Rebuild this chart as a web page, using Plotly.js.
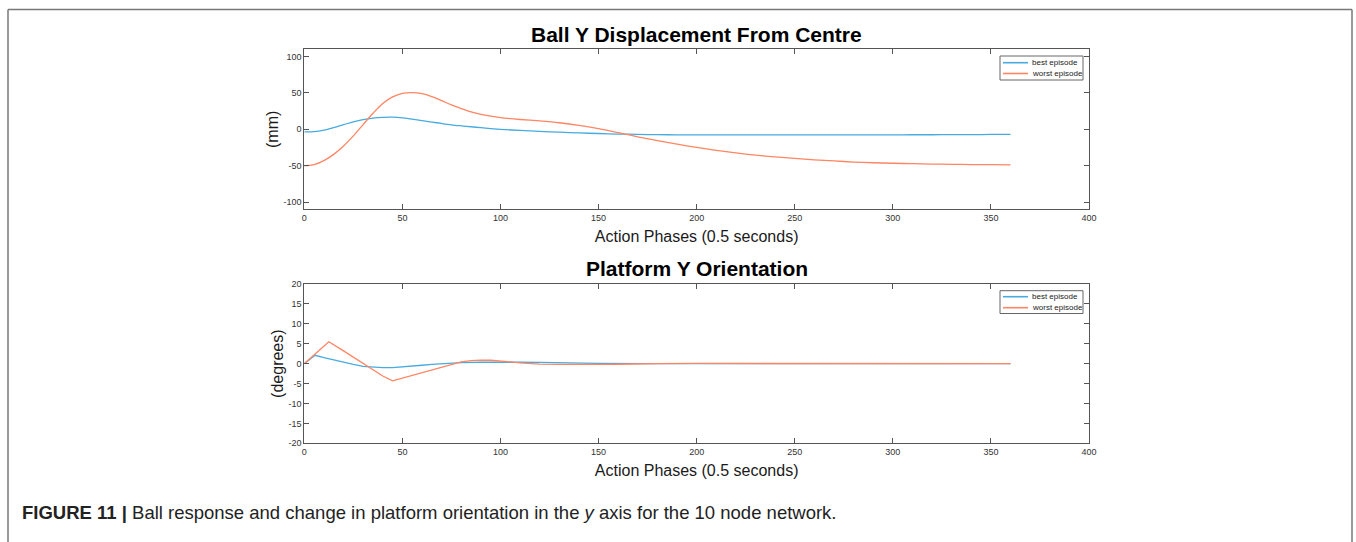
<!DOCTYPE html>
<html>
<head>
<meta charset="utf-8">
<script src="https://cdn.plot.ly/plotly-3.0.1.min.js"></script>
<style>
  html, body { margin: 0; padding: 0; background: #fff; }
  #chart { width: 1356px; height: 542px; }
</style>
</head>
<body>
<div id="chart"></div>
<script>
// ---------- data ----------
const seriesNames = ["best episode", "worst episode"];

// Panel 1: Ball Y displacement from centre (mm)
const dispX = [0,5,10,15,20,25,30,35,40,45,50,55,60,65,70,75,80,85,90,95,100,110,120,130,140,150,160,170,180,190,200,210,220,230,240,250,260,270,280,290,300,310,320,330,340,350,360];
const dispBest = [-3.5,-3.2,-1.2,2.3,6.3,10.3,13.4,15.5,16.5,16.7,15.8,14,12,10,8,6.2,4.8,3.5,2.2,1,0,-1.6,-2.8,-4,-5,-5.8,-6.5,-7,-7.4,-7.6,-7.7,-7.7,-7.7,-7.7,-7.7,-7.7,-7.7,-7.7,-7.7,-7.6,-7.6,-7.5,-7.5,-7.4,-7.3,-7.1,-7.0];
const dispWorst = [-50,-48.5,-43,-34.5,-23,-9,6.5,22,35.5,44.5,49.5,50.5,49,45,39.5,33.5,28.5,24,20.5,18,16,13.5,11.5,9,5.5,1,-4.5,-10.5,-15.5,-20.5,-25,-29,-32.5,-35.5,-38,-40,-42,-43.5,-45,-46,-46.7,-47.3,-47.8,-48.2,-48.5,-48.7,-48.8];

// Panel 2: Platform Y orientation (degrees)
const orientBestX = [0,3,5.5,10,15,20,25,30,35,40,45,50,55,60,65,70,75,80,90,100,110,120,130,140,150,175,200,250,300,360];
const orientBest = [0,1.2,2.1,1.5,0.9,0.4,-0.2,-0.7,-0.9,-1,-1,-0.85,-0.65,-0.4,-0.2,0,0.15,0.25,0.35,0.4,0.35,0.3,0.2,0.1,0.05,0,0.05,0,0,0];
const orientWorstX = [0,5,12.5,20,25,30,35,40,45,50,55,60,65,70,75,80,85,90,95,100,105,110,115,120,130,140,150,160,170,180,200,250,300,360];
const orientWorst = [0,2.3,5.5,3.2,1.6,0,-1.6,-3.1,-4.3,-3.6,-2.9,-2.2,-1.5,-0.8,-0.1,0.45,0.75,0.9,0.85,0.7,0.45,0.2,0,-0.1,-0.2,-0.25,-0.2,-0.15,-0.05,0,0.05,0,0,0];

const xTicks = [0,50,100,150,200,250,300,350,400];
const dispTicks = [-100,-50,0,50,100];
const orientTicks = [-20,-15,-10,-5,0,5,10,15,20];

const titleTop = "Ball Y Displacement From Centre";
const titleBottom = "Platform Y Orientation";
const xTitle = "Action Phases (0.5 seconds)";
const yTitleTop = "(mm)";
const yTitleBottom = "(degrees)";
const caption = "<b>FIGURE 11 |</b> Ball response and change in platform orientation in the <i>y</i> axis for the 10 node network.";

// ---------- styling ----------
const BLUE = "#47abdf";
const ORANGE = "#ff8563";
const W = 1356, H = 542;
const px = v => v / W;
const py = v => 1 - v / H;
const FONT = "Liberation Sans, Arial, Helvetica, sans-serif";
const AX = "#555555";

const traces = [
  {x: dispX, y: dispBest, name: seriesNames[0], type: "scatter", mode: "lines",
   line: {color: BLUE, width: 1.3, shape: "spline", smoothing: 0.9}, xaxis: "x", yaxis: "y"},
  {x: dispX, y: dispWorst, name: seriesNames[1], type: "scatter", mode: "lines",
   line: {color: ORANGE, width: 1.3, shape: "spline", smoothing: 0.9}, xaxis: "x", yaxis: "y"},
  {x: orientBestX, y: orientBest, name: seriesNames[0], type: "scatter", mode: "lines",
   line: {color: BLUE, width: 1.3}, xaxis: "x2", yaxis: "y2"},
  {x: orientWorstX, y: orientWorst, name: seriesNames[1], type: "scatter", mode: "lines",
   line: {color: ORANGE, width: 1.3}, xaxis: "x2", yaxis: "y2"}
];

function axisBase(extra) {
  return Object.assign({
    showgrid: false, zeroline: false, showline: true, linecolor: AX, linewidth: 1,
    mirror: "allticks", ticks: "inside", ticklen: 5, tickcolor: AX, tickwidth: 1,
    tickfont: {family: FONT, size: 9, color: "#333"}, fixedrange: true, automargin: false
  }, extra);
}
const labels = arr => arr.map(v => String(v));
const titleFont = {family: FONT, size: 16, color: "#1a1a1a"};

const xDom = [px(304.3), px(1089)];

// Legend boxes (drawn as decorations), one per panel: [top, bottom, line1 y, line2 y]
const legendBoxes = [[56, 80, 62.7, 73.5], [290.7, 313.5, 296.7, 307.7]];
const shapes = [
  {type: "line", xref: "paper", yref: "paper", x0: px(8), x1: px(1352), y0: py(9.5), y1: py(9.5), line: {color: "#777", width: 1.5}},
  {type: "line", xref: "paper", yref: "paper", x0: px(8), x1: px(8), y0: py(9.5), y1: py(545), line: {color: "#777", width: 1.5}},
  {type: "line", xref: "paper", yref: "paper", x0: px(1352), x1: px(1352), y0: py(9.5), y1: py(545), line: {color: "#777", width: 1.5}}
];
const annotations = [
  {text: "<b>" + titleTop + "</b>", xref: "paper", yref: "paper", x: px(696.7), y: py(34),
   xanchor: "center", yanchor: "middle", showarrow: false, font: {family: FONT, size: 21, color: "#000"}},
  {text: "<b>" + titleBottom + "</b>", xref: "paper", yref: "paper", x: px(696.7), y: py(268.3),
   xanchor: "center", yanchor: "middle", showarrow: false, font: {family: FONT, size: 21, color: "#000"}},
  {text: caption, xref: "paper", yref: "paper", x: px(20), y: py(512),
   xanchor: "left", yanchor: "middle", showarrow: false, font: {family: FONT, size: 18.5, color: "#222"}}
];
legendBoxes.forEach(b => {
  shapes.push({type: "rect", xref: "paper", yref: "paper", x0: px(1000), x1: px(1083), y0: py(b[1]), y1: py(b[0]),
    fillcolor: "#fff", line: {color: "#666", width: 1}, layer: "above"});
  [BLUE, ORANGE].forEach((c, i) => {
    shapes.push({type: "line", xref: "paper", yref: "paper", x0: px(1003), x1: px(1028), y0: py(b[2 + i]), y1: py(b[2 + i]),
      line: {color: c, width: 1.6}, layer: "above"});
    annotations.push({text: seriesNames[i], xref: "paper", yref: "paper", x: px(1030), y: py(b[2 + i]),
      xanchor: "left", yanchor: "middle", showarrow: false, font: {family: FONT, size: 8, color: "#222"}});
  });
});

const layout = {
  width: W, height: H,
  margin: {l: 0, r: 0, t: 0, b: 0},
  paper_bgcolor: "#fff", plot_bgcolor: "#fff",
  showlegend: false,
  xaxis: axisBase({domain: xDom, anchor: "y", range: [0, 400], tickvals: xTicks, ticktext: labels(xTicks),
    title: {text: xTitle, font: titleFont, standoff: 8}}),
  yaxis: axisBase({domain: [py(209.3), py(49.3)], anchor: "x", range: [-110, 110], tickvals: dispTicks, ticktext: labels(dispTicks),
    title: {text: yTitleTop, font: titleFont, standoff: 0}}),
  xaxis2: axisBase({domain: xDom, anchor: "y2", range: [0, 400], tickvals: xTicks, ticktext: labels(xTicks),
    title: {text: xTitle, font: titleFont, standoff: 8}}),
  yaxis2: axisBase({domain: [py(443.3), py(284)], anchor: "x2", range: [-20, 20], tickvals: orientTicks, ticktext: labels(orientTicks),
    title: {text: yTitleBottom, font: titleFont, standoff: 0}}),
  annotations: annotations,
  shapes: shapes
};

Plotly.newPlot("chart", traces, layout, {displayModeBar: false, staticPlot: true});
</script>
</body>
</html>
